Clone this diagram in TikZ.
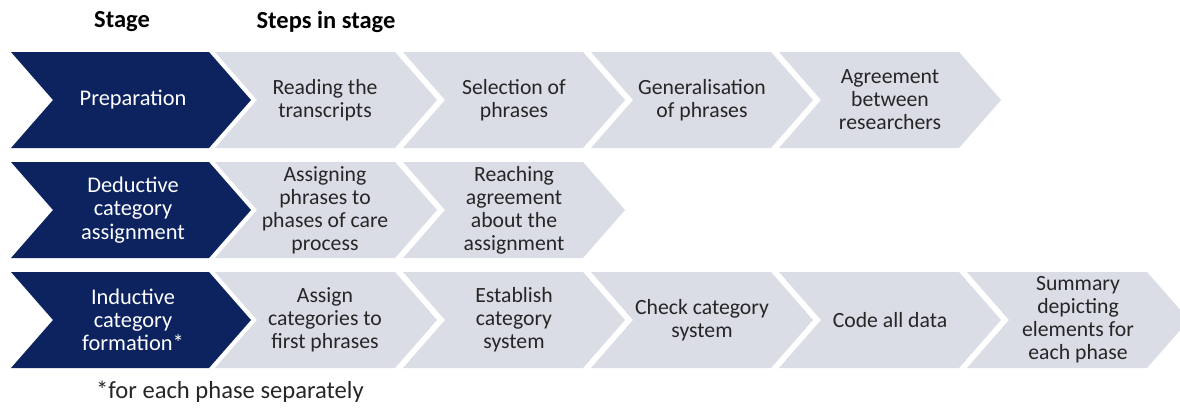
\documentclass[tikz,border=0pt]{standalone}
\usepackage{fontspec}
\setmainfont{Carlito}
\definecolor{navy}{RGB}{12,35,96}
\definecolor{lightgrey}{RGB}{218,221,230}
\definecolor{txtgrey}{RGB}{38,38,38}
\tikzset{
  stagebox/.style={fill=navy},
  stepbox/.style={fill=lightgrey},
  stagetext/.style={text=white, align=center, inner sep=0pt, font=\fontsize{22.4}{23.2}\selectfont},
  steptext/.style={text=txtgrey, align=center, inner sep=0pt, font=\fontsize{21.7}{23}\selectfont},
  header/.style={text=black, inner sep=0pt, font=\fontsize{24.5}{28}\selectfont\bfseries},
  footnote/.style={text=txtgrey, inner sep=0pt, anchor=base west, font=\fontsize{24.6}{28}\selectfont},
}
% #1 x of top-left, #2 y of top, #3 width of straight top edge, #4 style
\newcommand\chevshape[4]{%
  \fill[#4] (#1,#2) -- ++(#3,0) -- ++(42,48) -- ++(-42,48) -- ++(-#3,0) -- ++(42,-48) -- cycle;}
\begin{document}
\begin{tikzpicture}[x=1pt,y=-1pt]
\useasboundingbox (0,0) rectangle (1180,410);
% headers
\node[header] (hstage) at (122,22) {Stage};
\node[header] (hsteps) at (326,22) {Steps in stage};
% row 1
\chevshape{11}{52}{198}{stagebox}
\chevshape{215}{52}{180}{stepbox}
\chevshape{403}{52}{180}{stepbox}
\chevshape{591}{52}{180}{stepbox}
\chevshape{779}{52}{180}{stepbox}
\node[stagetext] (s1) at (133,100) {Preparation};
\node[steptext] (s1a) at (325,100) {Reading the\\transcripts};
\node[steptext] (s1b) at (514,100) {Selection of\\phrases};
\node[steptext] (s1c) at (702,100) {Generalisation\\of phrases};
\node[steptext] (s1d) at (890,100) {Agreement\\between\\researchers};
% row 2
\chevshape{11}{162}{198}{stagebox}
\chevshape{215}{162}{180}{stepbox}
\chevshape{403}{162}{180}{stepbox}
\node[stagetext] (s2) at (133,210) {Deductive\\category\\assignment};
\node[steptext] (s2a) at (325,210) {Assigning\\phrases to\\phases of care\\process};
\node[steptext] (s2b) at (514,210) {Reaching\\agreement\\about the\\assignment};
% row 3
\chevshape{11}{272}{198}{stagebox}
\chevshape{215}{272}{180}{stepbox}
\chevshape{403}{272}{180}{stepbox}
\chevshape{591}{272}{180}{stepbox}
\chevshape{779}{272}{180}{stepbox}
\chevshape{967}{272}{180}{stepbox}
\node[stagetext] (s3) at (133,320) {Inductive\\category\\formation*};
\node[steptext] (s3a) at (325,320) {Assign\\categories to\\first phrases};
\node[steptext] (s3b) at (514,320) {Establish\\category\\system};
\node[steptext] (s3c) at (702,320) {Check category\\system};
\node[steptext] (s3d) at (890,320) {Code all data};
\node[steptext] (s3e) at (1078,320) {Summary\\depicting\\elements for\\each phase};
% footnote
\node[footnote] (fn) at (96,398) {*for each phase separately};
\end{tikzpicture}
\end{document}
